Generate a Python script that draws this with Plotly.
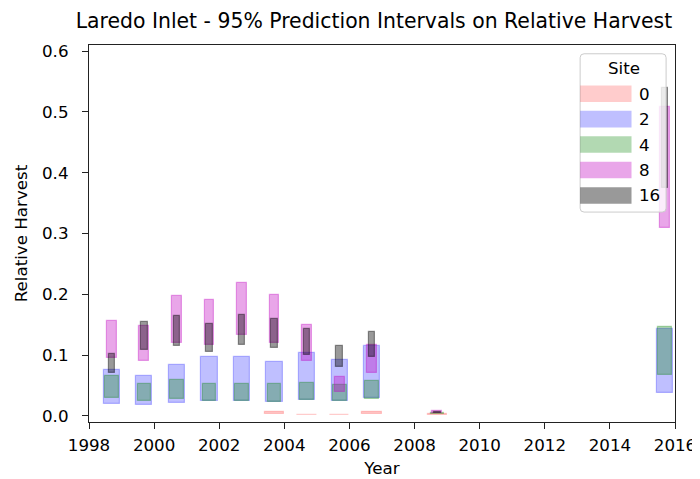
import plotly.graph_objects as go

# ---------------- data ----------------
years = [1999, 2000, 2001, 2002, 2003, 2004, 2005, 2006, 2007, 2009, 2016]
sites = ["0", "2", "4", "8", "16"]

# lower / upper bounds of 95% prediction intervals (None = no interval)
site0_lo = [None, None, None, None, None, 0.0030, 0.0008, 0.0008, 0.0030, 0.0020, None]
site0_hi = [None, None, None, None, None, 0.0068, 0.0018, 0.0018, 0.0068, 0.0038, None]

site2_lo = [0.0202, 0.0176, 0.0218, 0.0245, 0.0240, 0.0224, 0.0256, 0.0240, 0.0293, None, 0.0373]
site2_hi = [0.0763, 0.0651, 0.0843, 0.0966, 0.0966, 0.0881, 0.1030, 0.0913, 0.1143, None, 0.1426]

site4_lo = [0.0298, 0.0250, 0.0277, 0.0250, 0.0240, 0.0229, 0.0256, 0.0240, 0.0272, 0.0030, 0.0667]
site4_hi = [0.0651, 0.0522, 0.0593, 0.0522, 0.0518, 0.0518, 0.0534, 0.0506, 0.0582, 0.0042, 0.1468]

site8_lo = [0.0950, 0.0902, 0.1196, 0.1159, 0.1324, 0.1207, 0.0907, 0.0389, 0.0705, 0.0040, 0.3087]
site8_hi = [0.1564, 0.1484, 0.1971, 0.1912, 0.2179, 0.1992, 0.1495, 0.0641, 0.1159, 0.0078, 0.5074]

site16_lo = [0.0705, 0.1079, 0.1143, 0.1051, 0.1159, 0.1111, 0.0998, 0.0801, 0.0971, 0.0050, 0.3755]
site16_hi = [0.1014, 0.1548, 0.1644, 0.1516, 0.1667, 0.1596, 0.1431, 0.1154, 0.1388, 0.0068, 0.5394]

lows = [site0_lo, site2_lo, site4_lo, site8_lo, site16_lo]
highs = [site0_hi, site2_hi, site4_hi, site8_hi, site16_hi]

# ---------------- style ----------------
base_rgb = [(255, 0, 0), (0, 0, 255), (0, 128, 0), (191, 0, 191), (0, 0, 0)]
alphas = [0.2, 0.25, 0.3, 0.35, 0.4]
widths = [0.6, 0.5, 0.42, 0.3, 0.2]
x_offset = -0.3
FONT = "DejaVu Sans"

W, H = 700, 479
ML, MR, MT, MB = 80, 27, 37, 55
PW, PH = W - ML - MR, H - MT - MB


def rgba(c, a):
    return f"rgba({c[0]},{c[1]},{c[2]},{a})"


fig = go.Figure()
for s, lo, hi, c, a, w in zip(sites, lows, highs, base_rgb, alphas, widths):
    xs, ys, bs = [], [], []
    for yr, l, h in zip(years, lo, hi):
        if l is None or h is None:
            continue
        xs.append(yr + x_offset)
        ys.append(h - l)
        bs.append(l)
    fig.add_trace(go.Bar(
        x=xs, y=ys, base=bs, width=w, name=s, showlegend=False,
        marker=dict(color=rgba(c, a), line=dict(color=rgba(c, a), width=1.2)),
    ))

# ---------------- custom legend (matplotlib-like) ----------------
def px_x(p):
    return (p - ML) / PW


def px_y(p):
    return (H - MB - p) / PH


shapes = []
annotations = []
fx0, fx1, fy0, fy1 = 577, 664, 46, 208.5
r = 4
rx, ry = r / PW, r / PH
X0, X1, Y0, Y1 = px_x(fx0), px_x(fx1), px_y(fy1), px_y(fy0)
path = (f"M {X0+rx},{Y0} L {X1-rx},{Y0} Q {X1},{Y0} {X1},{Y0+ry} "
        f"L {X1},{Y1-ry} Q {X1},{Y1} {X1-rx},{Y1} L {X0+rx},{Y1} "
        f"Q {X0},{Y1} {X0},{Y1-ry} L {X0},{Y0+ry} Q {X0},{Y0} {X0+rx},{Y0} Z")
shapes.append(dict(type="path", xref="paper", yref="paper", path=path,
                   fillcolor="rgba(255,255,255,0.8)",
                   line=dict(color="rgba(204,204,204,1)", width=1), layer="above"))
annotations.append(dict(text="Site", xref="paper", yref="paper", x=px_x(621), y=px_y(61),
                        xanchor="center", yanchor="middle", showarrow=False,
                        font=dict(family=FONT, size=16.7, color="black")))
for i, (s, c, a) in enumerate(zip(sites, base_rgb, alphas)):
    cy = 87 + 26.1 * i
    shapes.append(dict(type="rect", xref="paper", yref="paper",
                       x0=px_x(577), x1=px_x(629), y0=px_y(cy + 8.5), y1=px_y(cy - 8.5),
                       fillcolor=rgba(c, a), line=dict(width=0), layer="above"))
    annotations.append(dict(text=s, xref="paper", yref="paper", x=px_x(635), y=px_y(cy),
                            xanchor="left", yanchor="middle", showarrow=False,
                            font=dict(family=FONT, size=16.7, color="black")))

fig.update_layout(
    width=W, height=H,
    margin=dict(l=ML, r=MR, t=MT, b=MB),
    paper_bgcolor="white", plot_bgcolor="white",
    barmode="overlay", bargap=0,
    font=dict(family=FONT, size=16.7, color="black"),
    title=dict(text="Laredo Inlet - 95% Prediction Intervals on Relative Harvest",
               x=366 / W, xanchor="center", y=1 - 13 / H, yanchor="middle",
               font=dict(family=FONT, size=20.4, color="black")),
    shapes=shapes, annotations=annotations,
)
fig.update_xaxes(range=[1998, 2016], dtick=2, tick0=1998, showgrid=False, zeroline=False,
                 showline=True, linecolor="#222", linewidth=1.2, mirror=True,
                 ticks="outside", ticklen=6, tickwidth=1.2, tickcolor="#222",
                 ticklabelstandoff=2,
                 title=dict(text="Year", font=dict(family=FONT, size=16.7), standoff=8))
fig.update_yaxes(range=[-0.01, 0.61], dtick=0.1, tick0=0, tickformat=".1f",
                 showgrid=False, zeroline=False,
                 showline=True, linecolor="#222", linewidth=1.2, mirror=True,
                 ticks="outside", ticklen=6, tickwidth=1.2, tickcolor="#222",
                 ticklabelstandoff=10,
                 title=dict(text="Relative Harvest", font=dict(family=FONT, size=16.7), standoff=10))

fig.write_html("out.html")
